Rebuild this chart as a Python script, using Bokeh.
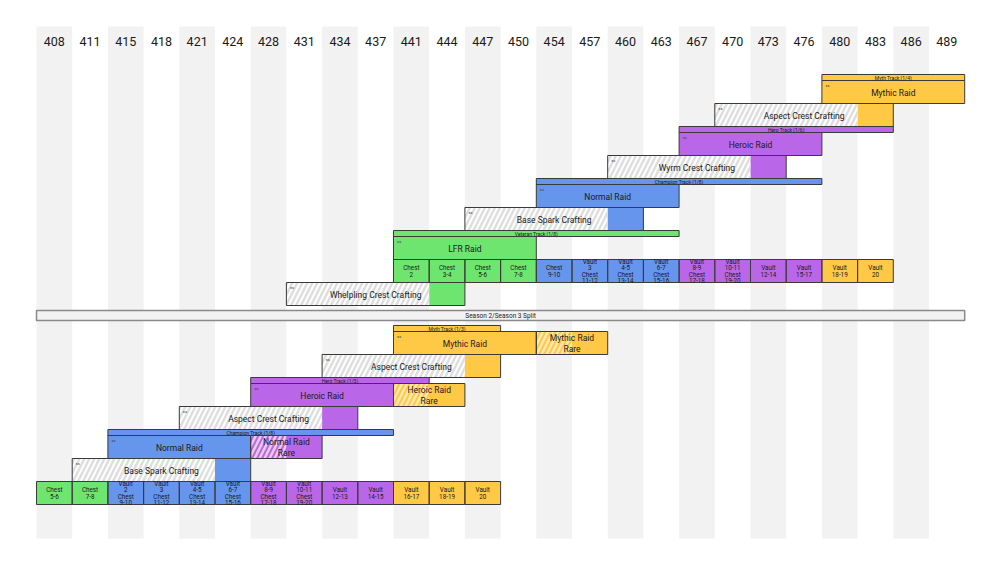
from bokeh.plotting import figure
from bokeh.models import Range1d, ColumnDataSource
from bokeh.core.properties import value
from bokeh.embed import file_html
from bokeh.resources import INLINE

# ---------------- data ----------------
levels = [408, 411, 415, 418, 421, 424, 428, 431, 434, 437, 441, 444, 447,
          450, 454, 457, 460, 463, 467, 470, 473, 476, 480, 483, 486, 489]

# tracks: label, start level, number of levels, colour key
top_tracks = [("Myth Track (1/4)", 480, 4, "myth"),
              ("Hero Track (1/6)", 467, 6, "hero"),
              ("Champion Track (1/8)", 454, 8, "champion"),
              ("Veteran Track (1/8)", 441, 8, "veteran")]
top_raids = [("Mythic Raid", 480), ("Heroic Raid", 467), ("Normal Raid", 454), ("LFR Raid", 441)]
top_crafts = [("Aspect Crest Crafting", 470), ("Wyrm Crest Crafting", 460),
              ("Base Spark Crafting", 447), ("Whelpling Crest Crafting", 431)]
top_item_start = 441
top_item_labels = ["Chest\n2", "Chest\n3-4", "Chest\n5-6", "Chest\n7-8", "Chest\n9-10",
                   "Vault\n3\nChest\n11-12", "Vault\n4-5\nChest\n13-14", "Vault\n6-7\nChest\n15-16",
                   "Vault\n8-9\nChest\n17-18", "Vault\n10-11\nChest\n19-20", "Vault\n12-14",
                   "Vault\n15-17", "Vault\n18-19", "Vault\n20"]
top_item_tracks = ["veteran"] * 4 + ["champion"] * 4 + ["hero"] * 4 + ["myth"] * 2

bot_tracks = [("Myth Track (1/3)", 441, 3, "myth"),
              ("Hero Track (1/5)", 428, 5, "hero"),
              ("Champion Track (1/8)", 415, 8, "champion")]
bot_raids = [("Mythic Raid", 441), ("Heroic Raid", 428), ("Normal Raid", 415)]
bot_rares = [("Mythic Raid\nRare", 454, "myth"), ("Heroic Raid\nRare", 441, "myth"),
             ("Normal Raid\nRare", 428, "hero")]
bot_crafts = [("Aspect Crest Crafting", 434), ("Aspect Crest Crafting", 421),
              ("Base Spark Crafting", 411)]
bot_item_start = 408
bot_item_labels = ["Chest\n5-6", "Chest\n7-8", "Vault\n2\nChest\n9-10", "Vault\n3\nChest\n11-12",
                   "Vault\n4-5\nChest\n13-14", "Vault\n6-7\nChest\n15-16", "Vault\n8-9\nChest\n17-18",
                   "Vault\n10-11\nChest\n19-20", "Vault\n12-13", "Vault\n14-15", "Vault\n16-17",
                   "Vault\n18-19", "Vault\n20"]
bot_item_tracks = ["veteran"] * 2 + ["champion"] * 4 + ["hero"] * 4 + ["myth"] * 3

split_label = "Season 2/Season 3 Split"

# ---------------- style ----------------
COL = {"myth": "#ffc845", "hero": "#b967e8", "champion": "#6595ec", "veteran": "#6ee56e"}
EDGE = "#3a3a3a"
TXT = "#1a1a1a"
FONT = value("Roboto")
RAID_N = 4      # raid box width in levels
CRAFT_N = 4     # hatched part of crafting boxes
RARE_N = 2
TRACK_H, ROW_H = 6, 23

idx = {lv: i for i, lv in enumerate(levels)}
X0, CW = 36.0, 35.7
W, H = 984, 546

p = figure(width=W, height=H, output_backend="svg", toolbar_location=None,
           x_range=Range1d((0 - X0) / CW, (W - X0) / CW),
           y_range=Range1d(H, 0),
           x_axis_location=None, y_axis_location=None, min_border=0)
p.grid.visible = False
p.outline_line_color = None
p.background_fill_color = "white"
p.border_fill_color = "white"

# shaded columns
shade_i = [i for i in range(len(levels)) if i % 2 == 0]
p.quad(left=shade_i, right=[i + 1 for i in shade_i], top=26, bottom=538,
       fill_color="#f2f2f2", line_color=None)
# header labels
p.text(x=[i + 0.5 for i in range(len(levels))], y=[41] * len(levels), text=[str(v) for v in levels],
       text_font=FONT, text_font_size="12.5px", text_align="center", text_baseline="middle",
       text_color=TXT)

boxes = dict(l=[], r=[], t=[], b=[], c=[])
hatch_boxes = dict(l=[], r=[], t=[], b=[])
rare_hatch = dict(l=[], r=[], t=[], b=[])
labels = dict(x=[], y=[], t=[])
small = dict(x=[], y=[], t=[])
items = dict(x=[], y=[], t=[])
icons = dict(x=[], y=[])


def add_box(l, r, t, b, c):
    boxes["l"].append(l); boxes["r"].append(r); boxes["t"].append(t); boxes["b"].append(b); boxes["c"].append(c)


def add_items(y, start, labs, keys):
    s = idx[start]
    for k, (lab, key) in enumerate(zip(labs, keys)):
        add_box(s + k, s + k + 1, y, y + ROW_H, COL[key])
        items["x"].append(s + k + 0.5); items["y"].append(y + ROW_H / 2 + 0.5); items["t"].append(lab)
    return y + ROW_H


def add_tier(y, track, raid, craft, rare=None, items_after_raid=None, items_after_craft=None):
    name, start, n, key = track
    i0 = idx[start]
    add_box(i0, i0 + n, y, y + TRACK_H, COL[key])
    small["x"].append(i0 + n / 2); small["y"].append(y + TRACK_H / 2 + 0.3); small["t"].append(name)
    y += TRACK_H
    rn, rs = raid
    r0 = idx[rs]
    add_box(r0, r0 + RAID_N, y, y + ROW_H, COL[key])
    labels["x"].append(r0 + RAID_N / 2); labels["y"].append(y + ROW_H / 2 + 0.5); labels["t"].append(rn)
    icons["x"].append(r0 + 0.1); icons["y"].append(y + 5)
    if rare:
        qn, qs, qk = rare
        q0 = idx[qs]
        add_box(q0, q0 + RARE_N, y, y + ROW_H, COL[qk])
        rare_hatch["l"].append(q0); rare_hatch["r"].append(q0 + 1)
        rare_hatch["t"].append(y); rare_hatch["b"].append(y + ROW_H)
        labels["x"].append(q0 + RARE_N / 2); labels["y"].append(y + ROW_H / 2 + 0.5); labels["t"].append(qn)
    y += ROW_H
    if items_after_raid:
        y = add_items(y, *items_after_raid)
    cn, cs = craft
    c0 = idx[cs]
    add_box(c0, c0 + CRAFT_N + 1, y, y + ROW_H, COL[key])
    hatch_boxes["l"].append(c0); hatch_boxes["r"].append(c0 + CRAFT_N)
    hatch_boxes["t"].append(y); hatch_boxes["b"].append(y + ROW_H)
    labels["x"].append(c0 + (CRAFT_N + 1) / 2); labels["y"].append(y + ROW_H / 2 + 0.5); labels["t"].append(cn)
    icons["x"].append(c0 + 0.1); icons["y"].append(y + 5)
    y += ROW_H
    if items_after_craft:
        y = add_items(y, *items_after_craft)
    return y


y = 74
for k in range(len(top_tracks)):
    y = add_tier(y, top_tracks[k], top_raids[k], top_crafts[k],
                 items_after_raid=(top_item_start, top_item_labels, top_item_tracks) if k == len(top_tracks) - 1 else None)

split_top = y + 5
y = split_top + 15
for k in range(len(bot_tracks)):
    y = add_tier(y, bot_tracks[k], bot_raids[k], bot_crafts[k], rare=bot_rares[k],
                 items_after_craft=(bot_item_start, bot_item_labels, bot_item_tracks) if k == len(bot_tracks) - 1 else None)

# split bar
p.quad(left=0, right=len(levels), top=split_top, bottom=split_top + 10,
       fill_color="#f2f2f2", line_color="#8a8a8a", line_width=1.5)
p.text(x=[len(levels) / 2], y=[split_top + 5.3], text=[split_label], text_font=FONT,
       text_font_size="6.5px", text_align="center", text_baseline="middle", text_color=TXT)

# boxes, hatched crafting parts, rare hatching, edges
p.quad(left="l", right="r", top="t", bottom="b", fill_color="c", line_color=None,
       source=ColumnDataSource(boxes))
p.quad(left="l", right="r", top="t", bottom="b", fill_color="white", line_color=None,
       hatch_pattern="/", hatch_color="#dedede", hatch_scale=10, hatch_weight=2.5,
       source=ColumnDataSource(hatch_boxes))
p.quad(left="l", right="r", top="t", bottom="b", fill_alpha=0, line_color=None,
       hatch_pattern="/", hatch_color="#fff6e0", hatch_alpha=0.7, hatch_scale=10, hatch_weight=2.5,
       source=ColumnDataSource(rare_hatch))
p.quad(left="l", right="r", top="t", bottom="b", fill_alpha=0, line_color=EDGE, line_width=1,
       source=ColumnDataSource(boxes))

p.text(x="x", y="y", text="t", source=ColumnDataSource(labels), text_font=FONT,
       text_font_size="8.5px", text_align="center", text_baseline="middle", text_color=TXT,
       text_line_height=1.1)
p.text(x="x", y="y", text="t", source=ColumnDataSource(small), text_font=FONT,
       text_font_size="5px", text_align="center", text_baseline="middle", text_color=TXT)
p.text(x="x", y="y", text="t", source=ColumnDataSource(items), text_font=FONT,
       text_font_size="6.3px", text_align="center", text_baseline="middle", text_color=TXT,
       text_line_height=0.8)
p.text(x="x", y="y", text=value("ss"), source=ColumnDataSource(icons), text_font=FONT,
       text_font_size="4px", text_align="left", text_baseline="middle", text_color="#444444")

open("out.html", "w").write(file_html(p, INLINE))
